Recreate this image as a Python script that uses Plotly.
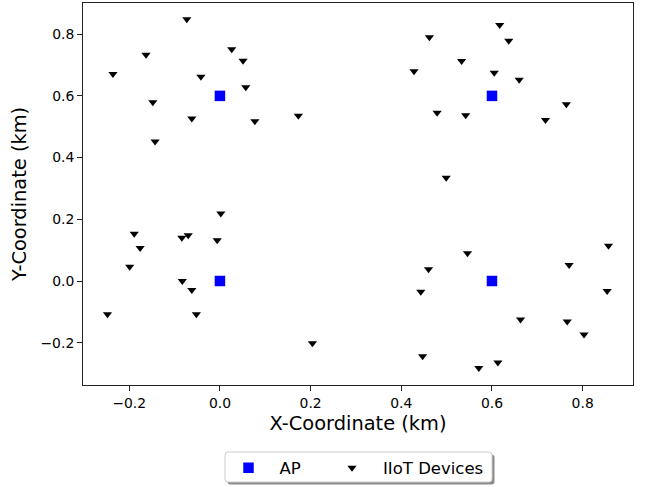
import plotly.graph_objects as go

# Access points (km)
ap_x = [0.0, 0.6, 0.0, 0.6]
ap_y = [0.6, 0.6, 0.0, 0.0]

# IIoT devices (km)
dev_x = [
    -0.073, 0.026, 0.051, -0.163, -0.236, -0.042, 0.057, -0.148, -0.062, 0.077, -0.143, 0.173,
    0.462, 0.617, 0.637, 0.533, 0.428, 0.605, 0.660, 0.479, 0.542, 0.764, 0.718, 0.499,
    0.002, -0.189, -0.176, -0.084, -0.070, -0.006, -0.199, -0.083, -0.062, -0.248, -0.052, 0.204,
    0.857, 0.546, 0.770, 0.460, 0.443, 0.854, 0.663, 0.766, 0.803, 0.447, 0.571, 0.613,
]
dev_y = [
    0.848, 0.751, 0.714, 0.733, 0.671, 0.662, 0.628, 0.579, 0.527, 0.518, 0.452, 0.536,
    0.790, 0.830, 0.779, 0.713, 0.680, 0.675, 0.652, 0.545, 0.537, 0.573, 0.522, 0.335,
    0.219, 0.153, 0.107, 0.140, 0.148, 0.132, 0.046, 0.000, -0.029, -0.108, -0.108, -0.202,
    0.114, 0.090, 0.052, 0.038, -0.035, -0.032, -0.125, -0.131, -0.173, -0.244, -0.282, -0.264,
]

x_ticks = [-0.2, 0.0, 0.2, 0.4, 0.6, 0.8]
y_ticks = [-0.2, 0.0, 0.2, 0.4, 0.6, 0.8]

FONT = "DejaVu Sans"
W, H = 649, 487
ML, MR, MT, MB = 83, 16, 3, 102

fig = go.Figure()
fig.add_trace(go.Scatter(
    x=ap_x, y=ap_y, mode="markers", name="AP", legend="legend",
    marker=dict(symbol="square", size=10.5, color="#0000ff"),
))
fig.add_trace(go.Scatter(
    x=dev_x, y=dev_y, mode="markers", name="IIoT Devices", legend="legend2",
    marker=dict(symbol="triangle-down", size=8, color="black"),
))

axis_common = dict(
    showline=True, linecolor="#222222", linewidth=1, mirror=True,
    ticks="outside", ticklen=5, tickwidth=1, tickcolor="#222222",
    showgrid=False, zeroline=False, tickformat=".1f",
    tickfont=dict(family=FONT, size=13.9, color="black"),
)

legend_common = dict(
    orientation="h", xanchor="left",
    xref="container", yref="container", y=(H - 468) / H, yanchor="middle",
    bgcolor="rgba(0,0,0,0)", borderwidth=0,
    font=dict(family=FONT, size=16.5, color="black"),
    itemwidth=52,
)

fig.update_layout(
    width=W, height=H,
    margin=dict(l=ML, r=MR, t=MT, b=MB, autoexpand=False),
    paper_bgcolor="white", plot_bgcolor="white",
    font=dict(family=FONT, color="black"),
    xaxis=dict(range=[-0.302, 0.911], tickvals=x_ticks,
               title=dict(text="X-Coordinate (km)", font=dict(family=FONT, size=19.4), standoff=6),
               **axis_common),
    yaxis=dict(range=[-0.337, 0.901], tickvals=y_ticks,
               title=dict(text="Y-Coordinate (km)", font=dict(family=FONT, size=19.4), standoff=8),
               **axis_common),
    showlegend=True,
    legend=dict(x=217.5 / W, **legend_common),
    legend2=dict(x=321 / W, **legend_common),
)

# legend frame with shadow (pixel positions converted to paper fractions)
def px_x(p):
    return (p - ML) / (W - ML - MR)

def px_y(p):
    return (H - MB - p) / (H - MT - MB)

def rounded_rect(x0, y0, x1, y1, r=3):
    X0, X1 = px_x(x0), px_x(x1)
    Y0, Y1 = px_y(y0), px_y(y1)
    rx = r / (W - ML - MR)
    ry = r / (H - MT - MB)
    return (f"M {X0+rx},{Y0} L {X1-rx},{Y0} Q {X1},{Y0} {X1},{Y0-ry} "
            f"L {X1},{Y1+ry} Q {X1},{Y1} {X1-rx},{Y1} L {X0+rx},{Y1} "
            f"Q {X0},{Y1} {X0},{Y1+ry} L {X0},{Y0-ry} Q {X0},{Y0} {X0+rx},{Y0} Z")

fig.add_shape(type="path", xref="paper", yref="paper",
              path=rounded_rect(227.5, 454.5, 494.5, 484.5),
              fillcolor="#8c8c8c", line=dict(width=0), layer="above")
fig.add_shape(type="path", xref="paper", yref="paper",
              path=rounded_rect(225, 452, 492, 482),
              fillcolor="white", line=dict(color="#cccccc", width=1), layer="above")

fig.write_html("out.html")
